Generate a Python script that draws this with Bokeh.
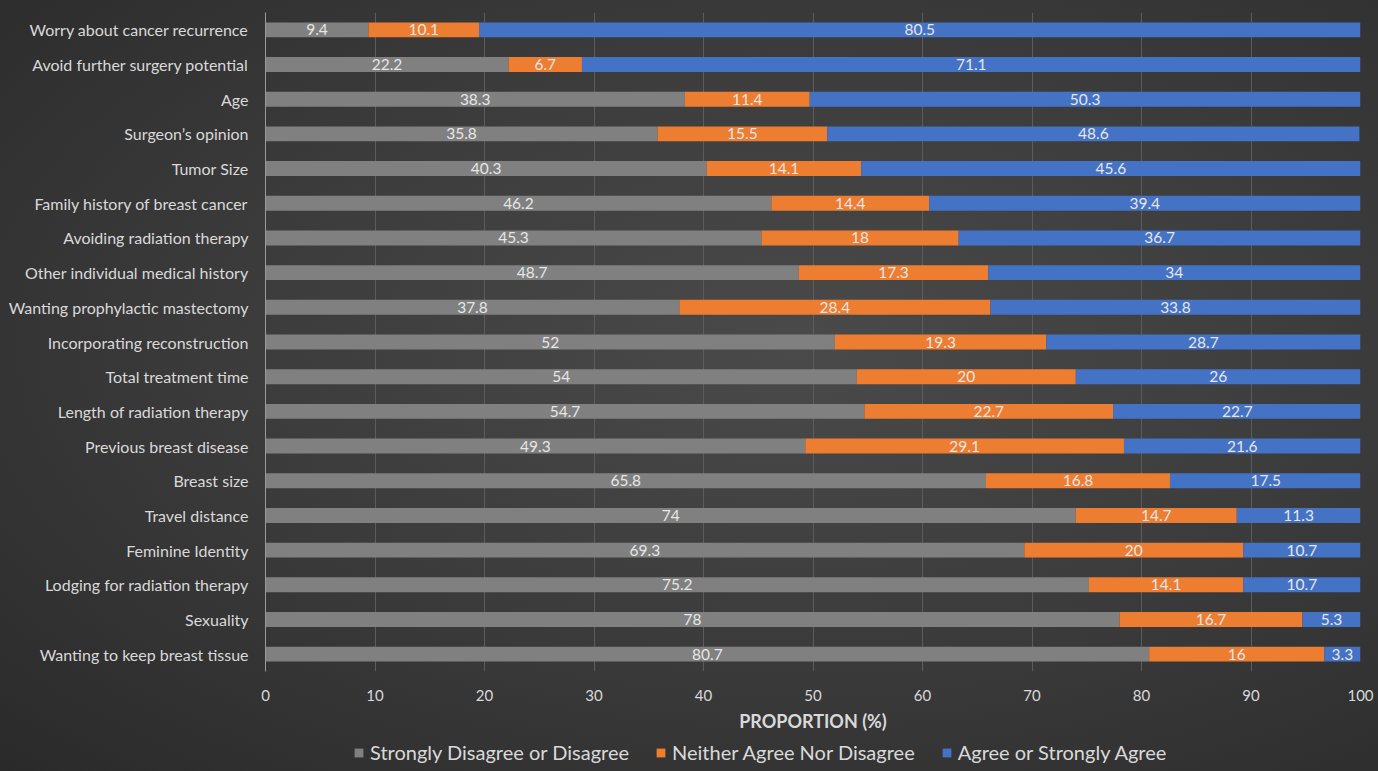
from bokeh.plotting import figure
from bokeh.models import ColumnDataSource, Range1d, Legend, LegendItem, FactorRange
from bokeh.layouts import column
from bokeh.core.properties import value
from bokeh.embed import file_html
from bokeh.resources import INLINE

factors = [
    "Worry about cancer recurrence",
    "Avoid further surgery potential",
    "Age",
    "Surgeon\u2019s opinion",
    "Tumor Size",
    "Family history of breast cancer",
    "Avoiding radiation therapy",
    "Other individual medical history",
    "Wanting prophylactic mastectomy",
    "Incorporating reconstruction",
    "Total treatment time",
    "Length of radiation therapy",
    "Previous breast disease",
    "Breast size",
    "Travel distance",
    "Feminine Identity",
    "Lodging for radiation therapy",
    "Sexuality",
    "Wanting to keep breast tissue",
]
disagree = [9.4, 22.2, 38.3, 35.8, 40.3, 46.2, 45.3, 48.7, 37.8, 52, 54, 54.7, 49.3, 65.8, 74, 69.3, 75.2, 78, 80.7]
neither = [10.1, 6.7, 11.4, 15.5, 14.1, 14.4, 18, 17.3, 28.4, 19.3, 20, 22.7, 29.1, 16.8, 14.7, 20, 14.1, 16.7, 16]
agree = [80.5, 71.1, 50.3, 48.6, 45.6, 39.4, 36.7, 34, 33.8, 28.7, 26, 22.7, 21.6, 17.5, 11.3, 10.7, 10.7, 5.3, 3.3]
series_names = ["Strongly Disagree or Disagree", "Neither Agree Nor Disagree", "Agree or Strongly Agree"]
x_ticks = [0, 10, 20, 30, 40, 50, 60, 70, 80, 90, 100]

colors = ["#808080", "#ed7d31", "#4472c4"]
TXT = "#d9d9d9"
FONT = "Lato"

keys = ["disagree", "neither", "agree"]
src = ColumnDataSource(dict(cat=factors, disagree=disagree, neither=neither, agree=agree))

p = figure(
    width=1378, height=736,
    y_range=FactorRange(*list(reversed(factors)), range_padding=0),
    x_range=Range1d(0, 100),
    output_backend="svg", toolbar_location=None,
    background_fill_color=None, border_fill_color=None,
    min_border_left=265, min_border_right=18, min_border_top=12, min_border_bottom=65,
    outline_line_color=None,
)

renderers = p.hbar_stack(keys, y="cat", height=0.43, color=colors, source=src, line_color=None)

# value labels centred in each segment
lx, ly, lt = [], [], []
for i, c in enumerate(factors):
    left = 0.0
    for arr in (disagree, neither, agree):
        v = arr[i]
        lx.append(left + v / 2.0)
        ly.append(c)
        lt.append(f"{v:g}")
        left += v
p.text(x=lx, y=ly, text=lt, text_align="center", text_baseline="middle",
       text_color="#e6e6e6", text_font=value(FONT), text_font_size="15.5px")

p.xaxis.ticker = x_ticks
p.xaxis.axis_label = "PROPORTION (%)"
p.xaxis.axis_label_text_font = FONT
p.xaxis.axis_label_text_font_style = "bold"
p.xaxis.axis_label_text_font_size = "18px"
p.xaxis.axis_label_text_color = TXT
p.xaxis.axis_label_standoff = 6
p.xaxis.major_label_text_font = FONT
p.xaxis.major_label_text_font_size = "15px"
p.xaxis.major_label_text_color = TXT
p.xaxis.major_label_standoff = 12
p.xaxis.axis_line_color = None
p.xaxis.major_tick_line_color = None
p.xaxis.minor_tick_line_color = None

p.yaxis.major_label_text_font = FONT
p.yaxis.major_label_text_font_size = "16px"
p.yaxis.major_label_text_color = TXT
p.yaxis.major_label_standoff = 11
p.yaxis.axis_line_color = "#9a9a9a"
p.yaxis.major_tick_line_color = None
p.yaxis.minor_tick_line_color = None

p.xgrid.grid_line_color = "#5c5c5c"
p.ygrid.grid_line_color = None

# legend strip below the chart (its frame is aligned with the chart's frame)
lg = figure(
    width=1378, height=35, x_range=Range1d(0, 1), y_range=Range1d(0, 1),
    output_backend="svg", toolbar_location=None,
    x_axis_location=None, y_axis_location=None,
    background_fill_color=None, border_fill_color=None,
    min_border=0, outline_line_color=None,
)
lg.xgrid.grid_line_color = None
lg.ygrid.grid_line_color = None
for g in lg.grid:
    g.grid_line_color = None
swatches = [lg.rect(x=[-5], y=[-5], width=1, height=1, color=c, line_color=None) for c in colors]
legend = Legend(
    items=[LegendItem(label=n, renderers=[r]) for n, r in zip(series_names, swatches)],
    orientation="horizontal", location=(88, 7),
    background_fill_alpha=0, border_line_color=None,
    label_text_font=FONT, label_text_font_size="20px", label_text_color=TXT,
    glyph_width=11, glyph_height=11, spacing=26, padding=0, margin=0,
    label_standoff=6,
)
lg.add_layout(legend, "center")

layout = column(p, lg, spacing=0)

template = """
{% block postamble %}
<style>
html, body { margin: 0; padding: 0; }
body { background: radial-gradient(ellipse at 58% 45%, #4a4a4a 0%, #3d3d3d 45%, #2a2a2a 100%); background-repeat: no-repeat; min-height: 771px; }
</style>
{% endblock %}
"""
open("out.html", "w").write(file_html(layout, INLINE, template=template))
